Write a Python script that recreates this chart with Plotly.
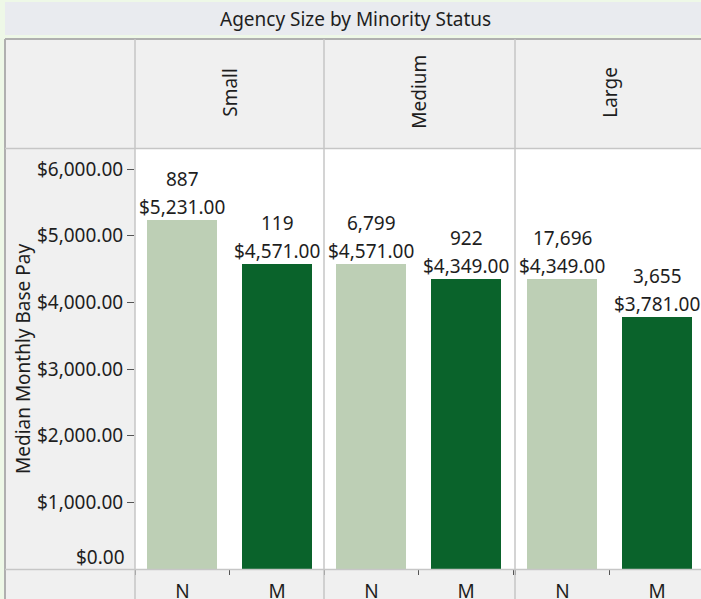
import plotly.graph_objects as go

# ---------------- data ----------------
sizes = ["Small", "Medium", "Large"]
status = ["N", "M"]
median_pay = {
    "Small": [5231, 4571],
    "Medium": [4571, 4349],
    "Large": [4349, 3781],
}
counts = {
    "Small": [887, 119],
    "Medium": [6799, 922],
    "Large": [17696, 3655],
}
tick_values = [0, 1000, 2000, 3000, 4000, 5000, 6000]
tick_labels = ["$0.00", "$1,000.00", "$2,000.00", "$3,000.00", "$4,000.00", "$5,000.00", "$6,000.00"]
title_text = "Agency Size by Minority Status"
y_title = "Median Monthly Base Pay"
bar_colors = ["#bdcfb5", "#0a632b"]

# ---------------- layout helpers ----------------
W, H = 701, 599
FONT = "Noto Sans"
FS = 19
TXT = "#1e1e1e"


def px(x):
    return x / W


def py(y):
    return 1 - y / H


panel_px = [(135, 324), (324, 515), (515, 701)]
cat_px = 94.75
plot_top, plot_bot = 149, 569

fig = go.Figure()
axis_names = ["x", "x2", "x3"]
for i, size in enumerate(sizes):
    fig.add_trace(go.Bar(
        x=status, y=median_pay[size],
        marker=dict(color=bar_colors, line=dict(width=0)),
        width=0.74,
        xaxis=axis_names[i], yaxis="y",
        hoverinfo="skip", showlegend=False,
    ))
    for j, st in enumerate(status):
        fig.add_annotation(x=st, y=median_pay[size][j], xref=axis_names[i], yref="y",
                           text=f"${median_pay[size][j]:,.2f}", showarrow=False,
                           yanchor="middle", yshift=13,
                           font=dict(family=FONT, size=FS, color=TXT))
        fig.add_annotation(x=st, y=median_pay[size][j], xref=axis_names[i], yref="y",
                           text=f"{counts[size][j]:,}", showarrow=False,
                           yanchor="middle", yshift=41,
                           font=dict(family=FONT, size=FS, color=TXT))

layout_axes = {}
for i, (a, b) in enumerate(panel_px):
    span = (b - a) / cat_px
    key = "xaxis" if i == 0 else f"xaxis{i + 1}"
    layout_axes[key] = dict(
        domain=[px(a), px(b)], anchor="y", type="category",
        range=[-0.5, -0.5 + span], automargin=False,
        showgrid=False, zeroline=False, showline=False,
        ticks="outside", tickson="boundaries", ticklen=5, tickwidth=1, tickcolor="#555555",
        ticklabelstandoff=9,
        tickfont=dict(family=FONT, size=FS, color=TXT),
        fixedrange=True,
    )

fig.update_layout(
    width=W, height=H, autosize=False,
    margin=dict(l=0, r=0, t=0, b=0, pad=0),
    paper_bgcolor="#eef8e7", plot_bgcolor="#ffffff",
    bargap=0,
    yaxis=dict(
        domain=[py(plot_bot), py(plot_top)], anchor="x",
        range=[0, 6300], automargin=False,
        tickvals=tick_values[1:], ticktext=tick_labels[1:],
        ticks="outside", ticklen=7, tickwidth=1, tickcolor="#555555",
        showgrid=False, zeroline=False, showline=False,
        tickfont=dict(family=FONT, size=FS, color=TXT),
        fixedrange=True,
    ),
    **layout_axes,
)

# $0.00 label (drawn slightly raised as in the original)
fig.add_annotation(x=px(127), xref="paper", y=tick_values[0], yref="y",
                   text=tick_labels[0], showarrow=False, xanchor="right", yanchor="middle",
                   yshift=12, font=dict(family=FONT, size=FS, color=TXT))

# background regions
shapes = []
def rect(x0, y0, x1, y1, fill, layer="below"):
    shapes.append(dict(type="rect", xref="paper", yref="paper",
                       x0=px(x0), x1=px(x1), y0=py(y1), y1=py(y0),
                       fillcolor=fill, line=dict(width=0), layer=layer))

def line(x0, y0, x1, y1, color, width, layer="above"):
    shapes.append(dict(type="line", xref="paper", yref="paper",
                       x0=px(x0), x1=px(x1), y0=py(y0), y1=py(y1),
                       line=dict(color=color, width=width), layer=layer))

rect(5, 2, 701, 35, "#e9ebef")           # title band
rect(5, 39, 701, plot_top, "#f0f0f0")     # header
rect(5, plot_top, 135, plot_bot, "#f0f0f0")  # y-axis panel
rect(5, plot_bot, 701, 599, "#f0f0f0")    # bottom axis row

line(5, 39, 701, 39, "#b0b0b0", 2)       # top border
line(5, 39, 5, 599, "#b0b0b0", 2)        # left border
line(5, 148.5, 701, 148.5, "#c6c6c6", 1.5)
line(5, 569.5, 701, 569.5, "#c6c6c6", 1.5)
for a, _ in panel_px:
    line(a, 39, a, 599, "#c6c6c6", 1.5)

fig.update_layout(shapes=shapes)

# title
fig.add_annotation(x=px(355), y=py(19), xref="paper", yref="paper", text=title_text,
                   showarrow=False, xanchor="center", yanchor="middle",
                   font=dict(family=FONT, size=FS, color=TXT))
# y title
fig.add_annotation(x=px(23), y=py((plot_top + plot_bot) / 2), xref="paper", yref="paper",
                   text=y_title, textangle=-90, showarrow=False,
                   xanchor="center", yanchor="middle",
                   font=dict(family=FONT, size=FS, color=TXT))
# header labels
for i, size in enumerate(sizes):
    a, b = panel_px[i]
    fig.add_annotation(x=px(a + cat_px), y=py(92), xref="paper", yref="paper",
                       text=size, textangle=-90, showarrow=False,
                       xanchor="center", yanchor="middle",
                       font=dict(family=FONT, size=FS, color=TXT))

fig.write_html("out.html", config={"displayModeBar": False},
               post_script="document.body.style.margin='0';document.body.style.overflow='hidden';")
